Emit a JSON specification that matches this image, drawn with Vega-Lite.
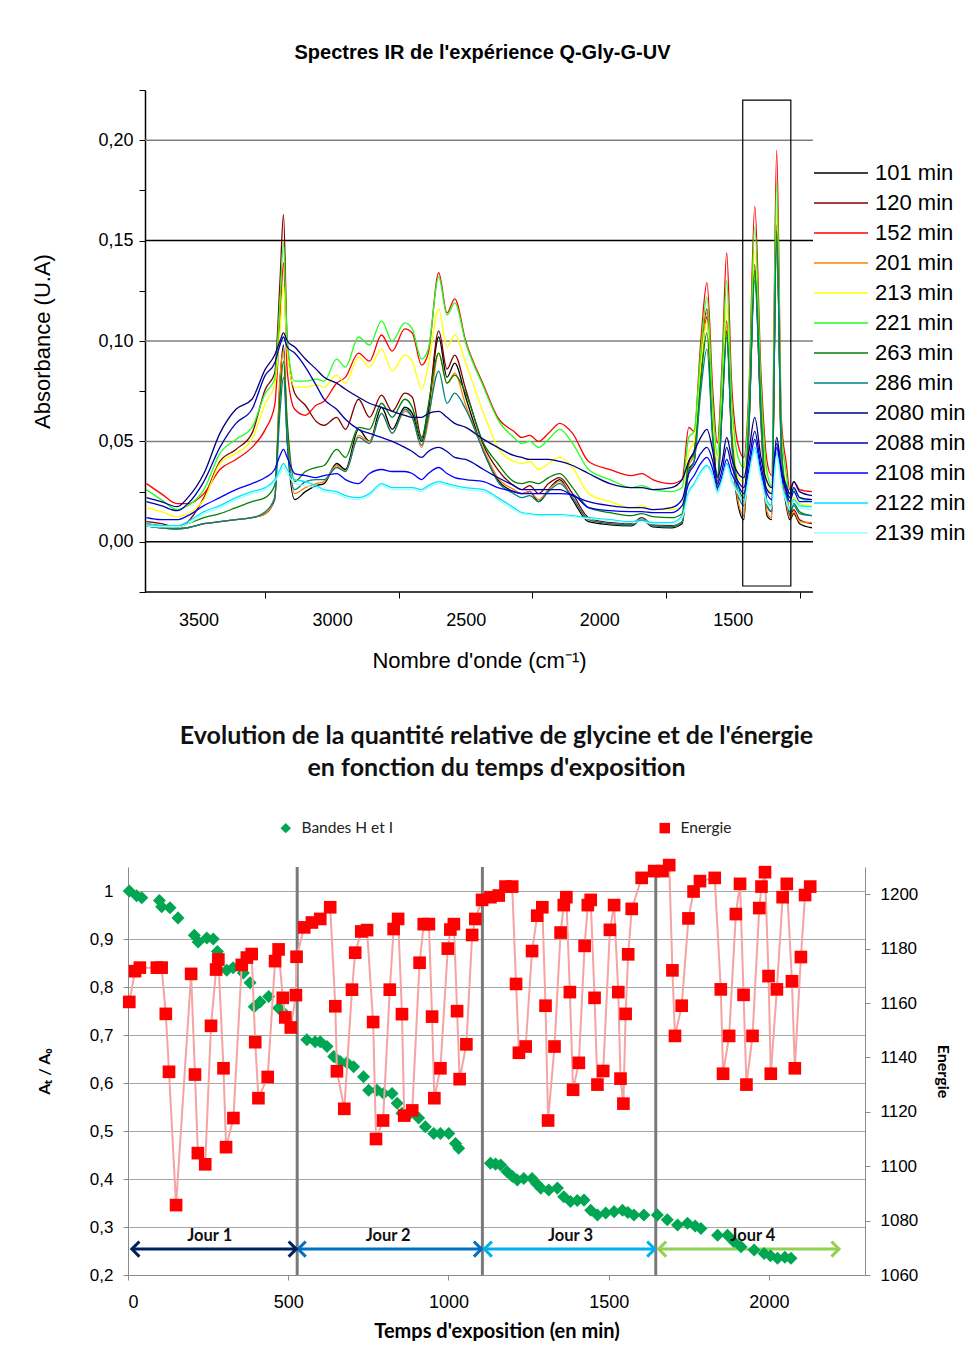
{
"$schema": "https://vega.github.io/schema/vega-lite/v6.json",
"background": "white",
"padding": {"left": 31, "top": 42, "right": 0, "bottom": 0},
"spacing": 53,
"config": {"view": {"stroke": null}, "font": "Liberation Sans"},
"resolve": {"scale": {"color": "independent", "shape": "independent", "stroke": "independent"}, "legend": {"color": "independent", "shape": "independent"}},
"datasets": {
"spectra": [
{"w":3695,"101":0.008,"120":0.010,"152":0.029,"201":0.008,"213":0.017,"221":0.026,"263":0.009,"286":0.008,"2080":0.022,"2088":0.020,"2108":0.012,"2122":0.009,"2139":0.008},
{"w":3640,"101":0.007,"120":0.009,"152":0.024,"201":0.007,"213":0.015,"221":0.021,"263":0.008,"286":0.007,"2080":0.020,"2088":0.018,"2108":0.011,"2122":0.008,"2139":0.0075},
{"w":3580,"101":0.0065,"120":0.0075,"152":0.019,"201":0.0065,"213":0.0125,"221":0.016,"263":0.0075,"286":0.0065,"2080":0.0175,"2088":0.0155,"2108":0.011,"2122":0.008,"2139":0.0075},
{"w":3540,"101":0.007,"120":0.010,"152":0.019,"201":0.007,"213":0.014,"221":0.018,"263":0.009,"286":0.007,"2080":0.022,"2088":0.019,"2108":0.013,"2122":0.010,"2139":0.009},
{"w":3480,"101":0.009,"120":0.022,"152":0.024,"201":0.009,"213":0.021,"221":0.026,"263":0.012,"286":0.009,"2080":0.034,"2088":0.030,"2108":0.018,"2122":0.015,"2139":0.014},
{"w":3420,"101":0.010,"120":0.040,"152":0.036,"201":0.010,"213":0.039,"221":0.044,"263":0.014,"286":0.010,"2080":0.054,"2088":0.047,"2108":0.022,"2122":0.018,"2139":0.017},
{"w":3360,"101":0.011,"120":0.046,"152":0.041,"201":0.011,"213":0.044,"221":0.051,"263":0.017,"286":0.011,"2080":0.066,"2088":0.059,"2108":0.026,"2122":0.022,"2139":0.021},
{"w":3300,"101":0.012,"120":0.054,"152":0.047,"201":0.012,"213":0.051,"221":0.057,"263":0.020,"286":0.012,"2080":0.071,"2088":0.066,"2108":0.029,"2122":0.025,"2139":0.024},
{"w":3250,"101":0.014,"120":0.076,"152":0.056,"201":0.014,"213":0.069,"221":0.074,"263":0.022,"286":0.015,"2080":0.086,"2088":0.083,"2108":0.032,"2122":0.027,"2139":0.026},
{"w":3215,"101":0.021,"120":0.084,"152":0.068,"201":0.022,"213":0.078,"221":0.081,"263":0.028,"286":0.022,"2080":0.093,"2088":0.089,"2108":0.036,"2122":0.031,"2139":0.030},
{"w":3195,"101":0.080,"120":0.130,"152":0.110,"201":0.082,"213":0.105,"221":0.120,"263":0.072,"286":0.065,"2080":0.100,"2088":0.098,"2108":0.043,"2122":0.036,"2139":0.034},
{"w":3182,"101":0.098,"120":0.163,"152":0.139,"201":0.095,"213":0.128,"221":0.149,"263":0.090,"286":0.082,"2080":0.104,"2088":0.102,"2108":0.046,"2122":0.039,"2139":0.037},
{"w":3168,"101":0.050,"120":0.100,"152":0.085,"201":0.058,"213":0.095,"221":0.100,"263":0.060,"286":0.050,"2080":0.100,"2088":0.097,"2108":0.042,"2122":0.036,"2139":0.034},
{"w":3140,"101":0.021,"120":0.074,"152":0.066,"201":0.024,"213":0.077,"221":0.080,"263":0.030,"286":0.026,"2080":0.097,"2088":0.094,"2108":0.034,"2122":0.031,"2139":0.029},
{"w":3100,"101":0.025,"120":0.068,"152":0.063,"201":0.027,"213":0.077,"221":0.080,"263":0.035,"286":0.030,"2080":0.091,"2088":0.087,"2108":0.033,"2122":0.030,"2139":0.028},
{"w":3060,"101":0.028,"120":0.060,"152":0.068,"201":0.029,"213":0.078,"221":0.081,"263":0.037,"286":0.031,"2080":0.086,"2088":0.078,"2108":0.032,"2122":0.028,"2139":0.027},
{"w":3030,"101":0.029,"120":0.058,"152":0.070,"201":0.030,"213":0.077,"221":0.080,"263":0.038,"286":0.031,"2080":0.082,"2088":0.071,"2108":0.033,"2122":0.026,"2139":0.025},
{"w":2983,"101":0.039,"120":0.062,"152":0.079,"201":0.038,"213":0.083,"221":0.091,"263":0.046,"286":0.037,"2080":0.079,"2088":0.066,"2108":0.034,"2122":0.025,"2139":0.024},
{"w":2950,"101":0.036,"120":0.056,"152":0.082,"201":0.035,"213":0.079,"221":0.087,"263":0.042,"286":0.035,"2080":0.076,"2088":0.061,"2108":0.031,"2122":0.023,"2139":0.022},
{"w":2901,"101":0.056,"120":0.071,"152":0.094,"201":0.053,"213":0.092,"221":0.102,"263":0.057,"286":0.052,"2080":0.072,"2088":0.056,"2108":0.029,"2122":0.022,"2139":0.021},
{"w":2860,"101":0.050,"120":0.062,"152":0.090,"201":0.050,"213":0.087,"221":0.098,"263":0.056,"286":0.049,"2080":0.069,"2088":0.054,"2108":0.034,"2122":0.024,"2139":0.023},
{"w":2815,"101":0.067,"120":0.073,"152":0.103,"201":0.064,"213":0.096,"221":0.110,"263":0.069,"286":0.064,"2080":0.067,"2088":0.052,"2108":0.036,"2122":0.029,"2139":0.028},
{"w":2775,"101":0.056,"120":0.065,"152":0.095,"201":0.054,"213":0.085,"221":0.100,"263":0.062,"286":0.054,"2080":0.065,"2088":0.050,"2108":0.035,"2122":0.027,"2139":0.026},
{"w":2728,"101":0.067,"120":0.074,"152":0.106,"201":0.065,"213":0.093,"221":0.109,"263":0.071,"286":0.066,"2080":0.063,"2088":0.047,"2108":0.035,"2122":0.027,"2139":0.026},
{"w":2700,"101":0.064,"120":0.072,"152":0.104,"201":0.062,"213":0.090,"221":0.106,"263":0.067,"286":0.062,"2080":0.062,"2088":0.045,"2108":0.034,"2122":0.027,"2139":0.026},
{"w":2665,"101":0.050,"120":0.052,"152":0.088,"201":0.047,"213":0.076,"221":0.091,"263":0.051,"286":0.048,"2080":0.062,"2088":0.042,"2108":0.031,"2122":0.026,"2139":0.025},
{"w":2640,"101":0.065,"120":0.066,"152":0.094,"201":0.060,"213":0.088,"221":0.096,"263":0.068,"286":0.062,"2080":0.064,"2088":0.045,"2108":0.034,"2122":0.028,"2139":0.027},
{"w":2601,"101":0.102,"120":0.105,"152":0.134,"201":0.094,"213":0.116,"221":0.132,"263":0.094,"286":0.085,"2080":0.065,"2088":0.047,"2108":0.037,"2122":0.030,"2139":0.029},
{"w":2570,"101":0.082,"120":0.086,"152":0.114,"201":0.079,"213":0.097,"221":0.113,"263":0.079,"286":0.069,"2080":0.062,"2088":0.045,"2108":0.034,"2122":0.029,"2139":0.028},
{"w":2541,"101":0.089,"120":0.093,"152":0.121,"201":0.084,"213":0.103,"221":0.119,"263":0.083,"286":0.074,"2080":0.059,"2088":0.042,"2108":0.032,"2122":0.028,"2139":0.027},
{"w":2500,"101":0.072,"120":0.076,"152":0.100,"201":0.068,"213":0.089,"221":0.099,"263":0.074,"286":0.066,"2080":0.057,"2088":0.041,"2108":0.031,"2122":0.027,"2139":0.026},
{"w":2433,"101":0.045,"120":0.048,"152":0.078,"201":0.046,"213":0.064,"221":0.077,"263":0.049,"286":0.045,"2080":0.051,"2088":0.036,"2108":0.030,"2122":0.026,"2139":0.025},
{"w":2380,"101":0.031,"120":0.036,"152":0.062,"201":0.032,"213":0.047,"221":0.061,"263":0.039,"286":0.030,"2080":0.047,"2088":0.032,"2108":0.027,"2122":0.022,"2139":0.021},
{"w":2320,"101":0.025,"120":0.028,"152":0.055,"201":0.026,"213":0.040,"221":0.052,"263":0.030,"286":0.024,"2080":0.043,"2088":0.028,"2108":0.025,"2122":0.017,"2139":0.016},
{"w":2290,"101":0.024,"120":0.026,"152":0.052,"201":0.024,"213":0.039,"221":0.049,"263":0.029,"286":0.022,"2080":0.042,"2088":0.026,"2108":0.024,"2122":0.0145,"2139":0.014},
{"w":2260,"101":0.025,"120":0.028,"152":0.053,"201":0.025,"213":0.040,"221":0.050,"263":0.030,"286":0.023,"2080":0.041,"2088":0.026,"2108":0.024,"2122":0.014,"2139":0.0135},
{"w":2227,"101":0.020,"120":0.024,"152":0.050,"201":0.021,"213":0.036,"221":0.047,"263":0.029,"286":0.020,"2080":0.041,"2088":0.026,"2108":0.024,"2122":0.0135,"2139":0.013},
{"w":2190,"101":0.026,"120":0.029,"152":0.054,"201":0.026,"213":0.039,"221":0.051,"263":0.032,"286":0.025,"2080":0.041,"2088":0.026,"2108":0.024,"2122":0.0135,"2139":0.013},
{"w":2148,"101":0.031,"120":0.032,"152":0.059,"201":0.030,"213":0.042,"221":0.056,"263":0.034,"286":0.029,"2080":0.040,"2088":0.026,"2108":0.024,"2122":0.0135,"2139":0.013},
{"w":2100,"101":0.021,"120":0.024,"152":0.054,"201":0.022,"213":0.037,"221":0.049,"263":0.027,"286":0.022,"2080":0.038,"2088":0.023,"2108":0.0235,"2122":0.013,"2139":0.0125},
{"w":2040,"101":0.010,"120":0.012,"152":0.040,"201":0.011,"213":0.024,"221":0.036,"263":0.017,"286":0.011,"2080":0.034,"2088":0.020,"2108":0.017,"2122":0.012,"2139":0.0115},
{"w":1960,"101":0.0085,"120":0.0095,"152":0.036,"201":0.009,"213":0.020,"221":0.031,"263":0.0145,"286":0.009,"2080":0.029,"2088":0.018,"2108":0.0155,"2122":0.011,"2139":0.0105},
{"w":1880,"101":0.008,"120":0.009,"152":0.033,"201":0.0085,"213":0.017,"221":0.027,"263":0.013,"286":0.0085,"2080":0.027,"2088":0.017,"2108":0.015,"2122":0.010,"2139":0.0095},
{"w":1841,"101":0.011,"120":0.012,"152":0.034,"201":0.011,"213":0.018,"221":0.028,"263":0.014,"286":0.011,"2080":0.027,"2088":0.017,"2108":0.015,"2122":0.011,"2139":0.010},
{"w":1800,"101":0.0075,"120":0.0085,"152":0.031,"201":0.008,"213":0.016,"221":0.026,"263":0.0125,"286":0.008,"2080":0.026,"2088":0.016,"2108":0.0145,"2122":0.0095,"2139":0.009},
{"w":1730,"101":0.007,"120":0.008,"152":0.029,"201":0.0075,"213":0.016,"221":0.025,"263":0.012,"286":0.0075,"2080":0.027,"2088":0.017,"2108":0.0145,"2122":0.0095,"2139":0.009},
{"w":1690,"101":0.009,"120":0.010,"152":0.031,"201":0.010,"213":0.018,"221":0.027,"263":0.014,"286":0.010,"2080":0.031,"2088":0.021,"2108":0.018,"2122":0.013,"2139":0.012},
{"w":1665,"101":0.036,"120":0.040,"152":0.057,"201":0.038,"213":0.045,"221":0.052,"263":0.040,"286":0.035,"2080":0.040,"2088":0.034,"2108":0.029,"2122":0.025,"2139":0.024},
{"w":1645,"101":0.040,"120":0.045,"152":0.055,"201":0.043,"213":0.050,"221":0.055,"263":0.044,"286":0.040,"2080":0.045,"2088":0.038,"2108":0.033,"2122":0.029,"2139":0.028},
{"w":1620,"101":0.085,"120":0.090,"152":0.100,"201":0.088,"213":0.088,"221":0.095,"263":0.080,"286":0.075,"2080":0.052,"2088":0.044,"2108":0.039,"2122":0.035,"2139":0.034},
{"w":1597,"101":0.112,"120":0.116,"152":0.129,"201":0.114,"213":0.110,"221":0.122,"263":0.104,"286":0.096,"2080":0.056,"2088":0.047,"2108":0.042,"2122":0.038,"2139":0.037},
{"w":1575,"101":0.055,"120":0.058,"152":0.075,"201":0.056,"213":0.060,"221":0.068,"263":0.052,"286":0.050,"2080":0.045,"2088":0.040,"2108":0.036,"2122":0.033,"2139":0.032},
{"w":1558,"101":0.026,"120":0.030,"152":0.049,"201":0.028,"213":0.040,"221":0.043,"263":0.033,"286":0.028,"2080":0.032,"2088":0.029,"2108":0.027,"2122":0.025,"2139":0.024},
{"w":1540,"101":0.068,"120":0.070,"152":0.090,"201":0.070,"213":0.075,"221":0.085,"263":0.066,"286":0.065,"2080":0.040,"2088":0.036,"2108":0.033,"2122":0.031,"2139":0.030},
{"w":1523,"101":0.105,"120":0.110,"152":0.144,"201":0.108,"213":0.118,"221":0.130,"263":0.105,"286":0.102,"2080":0.052,"2088":0.047,"2108":0.041,"2122":0.039,"2139":0.038},
{"w":1505,"101":0.052,"120":0.056,"152":0.080,"201":0.054,"213":0.064,"221":0.072,"263":0.055,"286":0.053,"2080":0.042,"2088":0.038,"2108":0.034,"2122":0.031,"2139":0.030},
{"w":1480,"101":0.018,"120":0.022,"152":0.048,"201":0.020,"213":0.032,"221":0.042,"263":0.028,"286":0.024,"2080":0.034,"2088":0.030,"2108":0.028,"2122":0.025,"2139":0.024},
{"w":1459,"101":0.011,"120":0.020,"152":0.042,"201":0.013,"213":0.030,"221":0.037,"263":0.022,"286":0.018,"2080":0.032,"2088":0.027,"2108":0.024,"2122":0.020,"2139":0.019},
{"w":1440,"101":0.055,"120":0.058,"152":0.075,"201":0.056,"213":0.066,"221":0.070,"263":0.060,"286":0.058,"2080":0.045,"2088":0.040,"2108":0.036,"2122":0.033,"2139":0.032},
{"w":1418,"101":0.135,"120":0.138,"152":0.167,"201":0.135,"213":0.145,"221":0.157,"263":0.135,"286":0.130,"2080":0.062,"2088":0.055,"2108":0.051,"2122":0.047,"2139":0.045},
{"w":1395,"101":0.060,"120":0.064,"152":0.085,"201":0.062,"213":0.070,"221":0.078,"263":0.066,"286":0.064,"2080":0.042,"2088":0.038,"2108":0.035,"2122":0.032,"2139":0.031},
{"w":1372,"101":0.013,"120":0.018,"152":0.040,"201":0.015,"213":0.030,"221":0.035,"263":0.020,"286":0.018,"2080":0.030,"2088":0.026,"2108":0.024,"2122":0.020,"2139":0.019},
{"w":1355,"101":0.011,"120":0.015,"152":0.033,"201":0.012,"213":0.024,"221":0.028,"263":0.018,"286":0.015,"2080":0.027,"2088":0.024,"2108":0.021,"2122":0.018,"2139":0.017},
{"w":1336,"101":0.155,"120":0.158,"152":0.195,"201":0.156,"213":0.165,"221":0.180,"263":0.155,"286":0.150,"2080":0.052,"2088":0.049,"2108":0.047,"2122":0.044,"2139":0.043},
{"w":1318,"101":0.040,"120":0.043,"152":0.060,"201":0.042,"213":0.048,"221":0.055,"263":0.046,"286":0.045,"2080":0.036,"2088":0.034,"2108":0.033,"2122":0.029,"2139":0.028},
{"w":1300,"101":0.018,"120":0.021,"152":0.039,"201":0.020,"213":0.028,"221":0.034,"263":0.025,"286":0.023,"2080":0.028,"2088":0.026,"2108":0.025,"2122":0.021,"2139":0.020},
{"w":1287,"101":0.011,"120":0.013,"152":0.026,"201":0.012,"213":0.019,"221":0.022,"263":0.015,"286":0.014,"2080":0.024,"2088":0.022,"2108":0.020,"2122":0.017,"2139":0.016},
{"w":1272,"101":0.014,"120":0.016,"152":0.030,"201":0.015,"213":0.022,"221":0.026,"263":0.019,"286":0.018,"2080":0.030,"2088":0.027,"2108":0.025,"2122":0.021,"2139":0.020},
{"w":1250,"101":0.009,"120":0.011,"152":0.026,"201":0.010,"213":0.019,"221":0.022,"263":0.015,"286":0.014,"2080":0.025,"2088":0.022,"2108":0.020,"2122":0.018,"2139":0.017},
{"w":1204,"101":0.007,"120":0.009,"152":0.025,"201":0.0095,"213":0.018,"221":0.020,"263":0.013,"286":0.013,"2080":0.023,"2088":0.021,"2108":0.020,"2122":0.0174,"2139":0.016}
],
"grid": [{"g":0,"k":"b"},{"g":0.05,"k":"g"},{"g":0.1,"k":"g"},{"g":0.15,"k":"b"},{"g":0.2,"k":"g"}],
"glycine": [
{"t":4,"v":1.0},{"t":27,"v":0.99},{"t":43,"v":0.986},{"t":98,"v":0.98},{"t":105,"v":0.967},{"t":131,"v":0.965},{"t":156,"v":0.944},{"t":207,"v":0.908},{"t":219,"v":0.894},{"t":246,"v":0.902},{"t":266,"v":0.9},{"t":279,"v":0.874},{"t":308,"v":0.835},{"t":328,"v":0.84},{"t":360,"v":0.829},{"t":381,"v":0.809},{"t":394,"v":0.759},{"t":412,"v":0.769},{"t":439,"v":0.78},{"t":470,"v":0.756},{"t":480,"v":0.75},
{"t":558,"v":0.69},{"t":584,"v":0.686},{"t":600,"v":0.686},{"t":621,"v":0.676},{"t":642,"v":0.655},{"t":662,"v":0.645},{"t":683,"v":0.642},{"t":704,"v":0.634},{"t":735,"v":0.613},{"t":751,"v":0.585},{"t":777,"v":0.585},{"t":798,"v":0.578},{"t":824,"v":0.578},{"t":840,"v":0.558},{"t":855,"v":0.537},{"t":881,"v":0.537},{"t":907,"v":0.527},{"t":928,"v":0.509},{"t":954,"v":0.495},{"t":975,"v":0.495},{"t":1001,"v":0.495},{"t":1022,"v":0.474},{"t":1032,"v":0.464},
{"t":1131,"v":0.433},{"t":1147,"v":0.431},{"t":1163,"v":0.429},{"t":1183,"v":0.415},{"t":1200,"v":0.405},{"t":1215,"v":0.398},{"t":1235,"v":0.401},{"t":1261,"v":0.401},{"t":1275,"v":0.39},{"t":1288,"v":0.381},{"t":1313,"v":0.377},{"t":1340,"v":0.381},{"t":1360,"v":0.363},{"t":1381,"v":0.353},{"t":1402,"v":0.355},{"t":1423,"v":0.356},{"t":1444,"v":0.335},{"t":1465,"v":0.325},{"t":1491,"v":0.329},{"t":1517,"v":0.332},{"t":1543,"v":0.335},{"t":1560,"v":0.33},{"t":1579,"v":0.325},{"t":1610,"v":0.325},
{"t":1652,"v":0.325},{"t":1683,"v":0.315},{"t":1715,"v":0.304},{"t":1746,"v":0.308},{"t":1770,"v":0.302},{"t":1788,"v":0.297},{"t":1840,"v":0.283},{"t":1871,"v":0.283},{"t":1890,"v":0.27},{"t":1913,"v":0.259},{"t":1954,"v":0.252},{"t":1985,"v":0.245},{"t":2005,"v":0.24},{"t":2027,"v":0.235},{"t":2050,"v":0.237},{"t":2069,"v":0.235}
],
"energie": [
{"t":4,"e":1160.4},{"t":22,"e":1171.7},{"t":37,"e":1173},{"t":90,"e":1173},{"t":105,"e":1173},{"t":118,"e":1156},{"t":128,"e":1134.7},{"t":150,"e":1085.7},{"t":197,"e":1170.7},{"t":209,"e":1133.7},{"t":218,"e":1104.8},{"t":241,"e":1100.7},{"t":259,"e":1151.6},{"t":275,"e":1172.3},{"t":282,"e":1176},{"t":298,"e":1136},{"t":306,"e":1107},{"t":329,"e":1117.7},{"t":355,"e":1174},{"t":371,"e":1176.7},{"t":386,"e":1178},{"t":397,"e":1145.6},{"t":407,"e":1125},{"t":436,"e":1132.8},{"t":459,"e":1175.4},{"t":470,"e":1179.7},{"t":483,"e":1161.9},{"t":491,"e":1154.7},{"t":508,"e":1151},{"t":524,"e":1162.9},{"t":526,"e":1177},
{"t":550,"e":1187.8},{"t":574,"e":1189.6},{"t":600,"e":1190.9},{"t":631,"e":1195.2},{"t":647,"e":1158.8},{"t":652,"e":1134.9},{"t":675,"e":1121.1},{"t":699,"e":1164.9},{"t":709,"e":1178.5},{"t":728,"e":1186.3},{"t":746,"e":1186.8},{"t":765,"e":1153},{"t":774,"e":1110},{"t":796,"e":1116.8},{"t":817,"e":1164.9},{"t":829,"e":1187.2},{"t":843,"e":1190.9},{"t":855,"e":1155.9},{"t":862,"e":1118.6},{"t":887,"e":1120.5},{"t":910,"e":1174.8},{"t":923,"e":1189},{"t":939,"e":1189},{"t":949,"e":1155},{"t":956,"e":1125},{"t":975,"e":1136},{"t":998,"e":1180},{"t":1006,"e":1187},{"t":1017,"e":1189},{"t":1027,"e":1157},{"t":1035,"e":1132},{"t":1056,"e":1144.8},{"t":1074,"e":1185},{"t":1084,"e":1190.9},{"t":1105,"e":1197.9},
{"t":1131,"e":1198.9},{"t":1157,"e":1199.5},{"t":1178,"e":1202.8},{"t":1199,"e":1202.8},{"t":1211,"e":1167},{"t":1220,"e":1141.7},{"t":1241,"e":1144},{"t":1261,"e":1179.1},{"t":1277,"e":1192.1},{"t":1293,"e":1195.2},{"t":1303,"e":1159},{"t":1311,"e":1116.8},{"t":1331,"e":1144},{"t":1350,"e":1185.9},{"t":1360,"e":1196},{"t":1368,"e":1198.9},{"t":1379,"e":1164},{"t":1389,"e":1128.1},{"t":1407,"e":1138},{"t":1425,"e":1181},{"t":1435,"e":1196},{"t":1444,"e":1197.9},{"t":1456,"e":1161.9},{"t":1465,"e":1130},{"t":1483,"e":1135},{"t":1504,"e":1186.9},{"t":1517,"e":1196},{"t":1530,"e":1164},{"t":1537,"e":1132.2},{"t":1546,"e":1123},{"t":1553,"e":1156},{"t":1561,"e":1177.9},{"t":1572,"e":1194.6},{"t":1603,"e":1206},
{"t":1642,"e":1208.5},{"t":1668,"e":1208.5},{"t":1689,"e":1210.7},{"t":1699,"e":1172},{"t":1707,"e":1147.9},{"t":1728,"e":1159},{"t":1749,"e":1191.1},{"t":1765,"e":1201},{"t":1785,"e":1204.8},{"t":1831,"e":1206},{"t":1850,"e":1165},{"t":1857,"e":1134},{"t":1876,"e":1147.9},{"t":1897,"e":1192.7},{"t":1910,"e":1203.8},{"t":1921,"e":1163},{"t":1930,"e":1130},{"t":1949,"e":1147.9},{"t":1970,"e":1194.9},{"t":1977,"e":1202.8},{"t":1988,"e":1208.1},{"t":1999,"e":1169.9},{"t":2006,"e":1134},{"t":2025,"e":1165},{"t":2043,"e":1198.9},{"t":2056,"e":1203.8},{"t":2072,"e":1168},{"t":2081,"e":1136},{"t":2100,"e":1176.9},{"t":2113,"e":1199.7},{"t":2129,"e":1202.8}
],
"days": [
{"d":"Jour 1","s":12,"e":525,"m":255},
{"d":"Jour 2","s":531,"e":1103,"m":812},
{"d":"Jour 3","s":1112,"e":1644,"m":1381},
{"d":"Jour 4","s":1656,"e":2219,"m":1950}
],
"splits": [{"t":528},{"t":1106},{"t":1647}]
},
"vconcat": [
{
"width": 685, "height": 502,
"title": {"text": "Spectres IR de l'expérience Q-Gly-G-UV", "font": "Liberation Sans", "fontSize": 20, "fontWeight": "bold", "color": "black", "frame": "group", "offset": 27, "dx": 12},
"layer": [
{"data": {"name": "grid"},
 "mark": {"type": "rule", "strokeWidth": 1.5},
 "encoding": {"y": {"field": "g", "type": "quantitative"}, "x": {"datum": 3700, "type": "quantitative"}, "x2": {"datum": 1200},
  "color": {"condition": {"test": "datum.k == 'b'", "value": "black"}, "value": "#7f7f7f"}}},
{"data": {"values": [{"b": -0.025}]},
 "mark": {"type": "rule", "strokeWidth": 1.5, "color": "black"},
 "encoding": {"y": {"field": "b", "type": "quantitative"}, "x": {"datum": 3700, "type": "quantitative"}, "x2": {"datum": 1200}}},
{"data": {"name": "spectra"},
 "transform": [{"fold": ["101","120","152","201","213","221","263","286","2080","2088","2108","2122","2139"], "as": ["serie","abs"]}],
 "mark": {"type": "line", "strokeWidth": 1.3, "interpolate": "monotone"},
 "encoding": {
  "x": {"field": "w", "type": "quantitative", "scale": {"domain": [1200, 3764], "reverse": true, "nice": false, "zero": false},
   "axis": {"values": [3500,3250,3000,2750,2500,2250,2000,1750,1500,1250], "format": "d", "labelExpr": "datum.value % 500 == 0 ? datum.label : ''", "grid": false, "domain": false, "tickColor": "black", "tickSize": 6, "tickOpacity": {"condition": {"test": "datum.value % 500 == 0", "value": 0}, "value": 1}, "labelFont": "Liberation Sans", "labelFontSize": 18, "labelColor": "black", "labelPadding": 13, "title": "Nombre d'onde (cm⁻¹)", "titleX": 351, "titleFont": "Liberation Sans", "titleFontSize": 22, "titleFontWeight": "normal", "titleColor": "black", "titlePadding": 21}},
  "y": {"field": "abs", "type": "quantitative", "scale": {"domain": [-0.025, 0.225], "nice": false, "zero": false},
   "axis": {"offset": -17, "values": [-0.025,0,0.025,0.05,0.075,0.1,0.125,0.15,0.175,0.2,0.225], "labelExpr": "(abs(datum.value*20 - round(datum.value*20)) < 0.01 && datum.value > -0.01 && datum.value < 0.21) ? replace(format(datum.value, '.2f'), '.', ',') : ''", "grid": false, "domainColor": "black", "domainWidth": 1.5, "tickColor": "black", "tickSize": 6, "labelFont": "Liberation Sans", "labelFontSize": 18, "labelColor": "black", "labelPadding": 6, "title": "Absorbance (U.A)", "titleFont": "Liberation Sans", "titleFontSize": 22, "titleFontWeight": "normal", "titleColor": "black", "titlePadding": 43}},
  "color": {"field": "serie", "type": "nominal",
   "scale": {"domain": ["101","120","152","201","213","221","263","286","2080","2088","2108","2122","2139"], "range": ["#000000","#800000","#ff0000","#ff8000","#ffff00","#22ff22","#008000","#008080","#000080","#0000b0","#0000ff","#00e5ff","#99ffff"]},
   "legend": {"orient": "none", "direction": "vertical", "columns": 1, "legendX": 685, "legendY": 72, "title": null, "symbolType": "stroke", "symbolSize": 2916, "symbolStrokeWidth": 1.3, "clipHeight": 22, "labelFont": "Liberation Sans", "labelFontSize": 22, "labelColor": "black", "labelOffset": 6, "rowPadding": 8, "padding": 0, "labelExpr": "datum.label + ' min'"}}
 }},
{"data": {"values": [{"w1": 1463, "w2": 1283, "a1": 0.22, "a2": -0.022}]},
 "mark": {"type": "rect", "filled": false, "stroke": "black", "strokeWidth": 1.2},
 "encoding": {"x": {"field": "w1", "type": "quantitative"}, "x2": {"field": "w2"}, "y": {"field": "a1", "type": "quantitative"}, "y2": {"field": "a2"}}}
]
},
{
"width": 737, "height": 408,
"title": {"text": ["Evolution de la quantité relative de glycine et de l'énergie", "en fonction du temps d'exposition"], "font": "Lato", "fontSize": 25, "fontWeight": "bold", "color": "#111", "lineHeight": 32, "frame": "group", "offset": 39},
"layer": [
{"layer": [
 {"data": {"name": "splits"}, "mark": {"type": "rule", "color": "#7a7a7a", "strokeWidth": 3},
  "encoding": {"x": {"field": "t", "type": "quantitative", "scale": {"domain": [0, 2300], "nice": false},
   "axis": {"values": [0,500,1000,1500,2000], "format": "d", "grid": false, "domainColor": "#8c8c8c", "tickColor": "#8c8c8c", "tickSize": 5, "labelFont": "Liberation Sans", "labelFontSize": 18, "labelColor": "black", "labelPadding": 13, "title": "Temps d'exposition (en min)", "titleFont": "Lato", "titleFontSize": 20, "titleFontWeight": "bold", "titleColor": "black", "titlePadding": 10}}}},
 {"data": {"name": "days"}, "mark": {"type": "rule", "strokeWidth": 3},
  "encoding": {"x": {"field": "s", "type": "quantitative"}, "x2": {"field": "e"}, "y": {"datum": 0.254, "type": "quantitative"},
   "stroke": {"field": "d", "type": "nominal", "scale": {"domain": ["Jour 1","Jour 2","Jour 3","Jour 4"], "range": ["#002060","#0070c0","#00b0f0","#92d050"]}, "legend": null}}},
 {"data": {"name": "days"}, "mark": {"type": "point", "shape": "M1,-1L0,0L1,1", "filled": false, "size": 230, "strokeWidth": 3, "opacity": 1},
  "encoding": {"x": {"field": "s", "type": "quantitative"}, "y": {"datum": 0.254, "type": "quantitative"}, "stroke": {"field": "d", "type": "nominal", "legend": null}}},
 {"data": {"name": "days"}, "mark": {"type": "point", "shape": "M-1,-1L0,0L-1,1", "filled": false, "size": 230, "strokeWidth": 3, "opacity": 1},
  "encoding": {"x": {"field": "e", "type": "quantitative"}, "y": {"datum": 0.254, "type": "quantitative"}, "stroke": {"field": "d", "type": "nominal", "legend": null}}},
 {"data": {"name": "glycine"}, "mark": {"type": "point", "filled": true, "size": 170, "opacity": 1},
  "encoding": {"x": {"field": "t", "type": "quantitative"},
   "y": {"field": "v", "type": "quantitative", "scale": {"domain": [0.2, 1.05], "nice": false, "zero": false},
    "axis": {"values": [0.2,0.3,0.4,0.5,0.6,0.7,0.8,0.9,1.0], "labelExpr": "replace(format(datum.value, '.1~f'), '.', ',')", "grid": true, "gridColor": "#a6a6a6", "domainColor": "#8c8c8c", "tickColor": "#8c8c8c", "tickSize": 5, "labelFont": "Liberation Sans", "labelFontSize": 17, "labelColor": "black", "labelPadding": 10, "title": "Aₜ / A₀", "titleFont": "Lato", "titleFontSize": 16, "titleFontWeight": "bold", "titleColor": "black", "titlePadding": 37}},
   "color": {"datum": "Bandes H et I", "type": "nominal", "scale": {"domain": ["Bandes H et I", "Energie"], "range": ["#00a651", "#ff0000"]},
    "legend": {"orient": "none", "legendX": 150, "legendY": -47, "direction": "horizontal", "title": null, "columnPadding": 263, "labelFont": "Lato", "labelFontSize": 15.5, "labelColor": "#222", "symbolSize": 110, "labelOffset": 8, "padding": 0}},
   "shape": {"datum": "Bandes H et I", "type": "nominal", "scale": {"domain": ["Bandes H et I", "Energie"], "range": ["diamond", "square"]}}}},
 {"data": {"name": "days"}, "mark": {"type": "text", "font": "Lato", "fontSize": 16.5, "fontWeight": "bold", "color": "#111"},
  "encoding": {"x": {"field": "m", "type": "quantitative"}, "y": {"datum": 0.281, "type": "quantitative"}, "text": {"field": "d"}}}
]},
{"layer": [
 {"data": {"name": "energie"}, "mark": {"type": "line", "color": "#f6a3a3", "strokeWidth": 2},
  "encoding": {"x": {"field": "t", "type": "quantitative"}, "y": {"field": "e", "type": "quantitative", "scale": {"domain": [1060, 1210], "nice": false, "zero": false},
   "axis": {"orient": "right", "values": [1060,1080,1100,1120,1140,1160,1180,1200], "format": "d", "grid": false, "domainColor": "#8c8c8c", "tickColor": "#8c8c8c", "tickSize": 5, "labelFont": "Liberation Sans", "labelFontSize": 17, "labelColor": "black", "labelPadding": 10, "title": "Energie", "titleFont": "Lato", "titleFontSize": 16, "titleFontWeight": "bold", "titleColor": "black", "titlePadding": 17}}}},
 {"data": {"name": "energie"}, "mark": {"type": "point", "filled": true, "size": 160, "opacity": 1},
  "encoding": {"x": {"field": "t", "type": "quantitative"}, "y": {"field": "e", "type": "quantitative"},
   "color": {"datum": "Energie", "type": "nominal"}, "shape": {"datum": "Energie", "type": "nominal"}}}
]}
],
"resolve": {"scale": {"y": "independent"}}
}
]
}
